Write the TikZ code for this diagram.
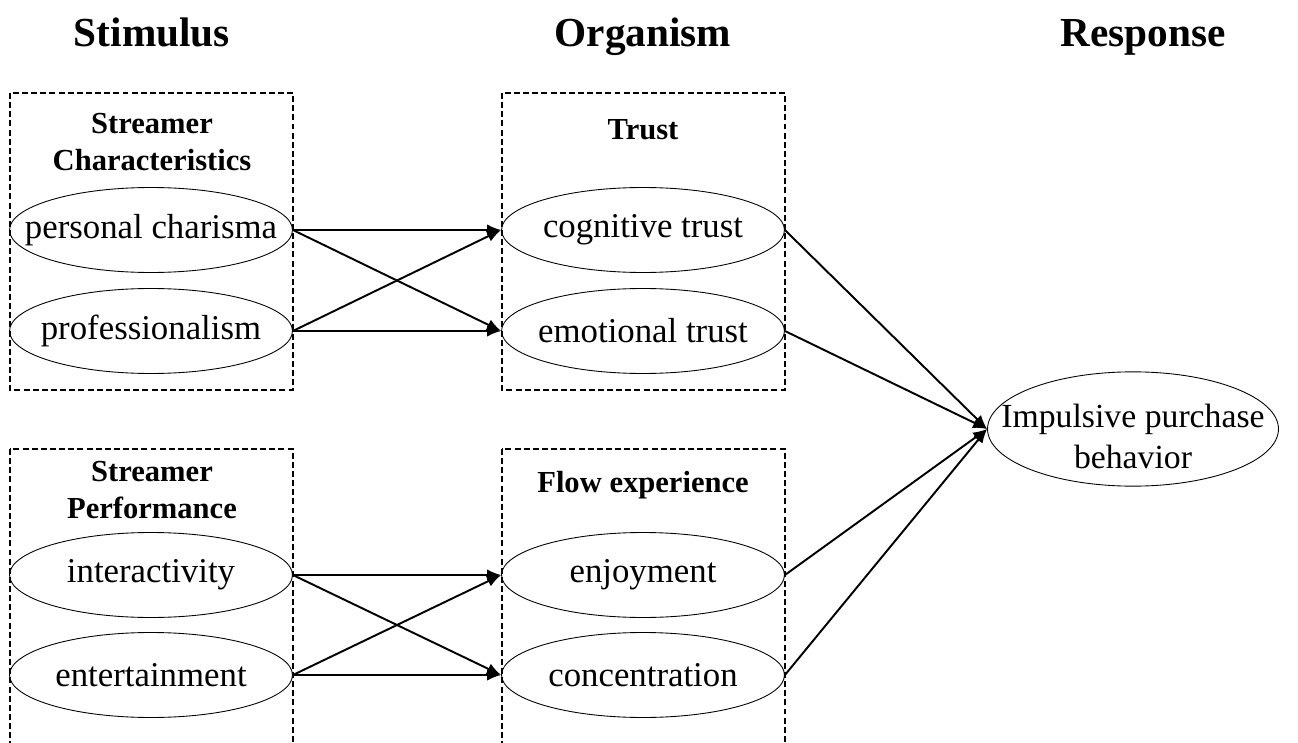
\documentclass[tikz,border=0pt]{standalone}
\usepackage{fontspec}
\setmainfont{Liberation Serif}
\usetikzlibrary{shapes.geometric,arrows.meta,positioning}

\begin{document}
\begin{tikzpicture}[x=0.02cm, y=-0.02cm,
    factor/.style={draw, ellipse, line width=0.5pt, minimum width=5.66cm, minimum height=1.7cm, inner sep=0pt,
        font=\fontsize{19.8}{23}\selectfont,
        execute at begin node={\hbox to 0pt\bgroup\hss}, execute at end node={\hss\egroup}},
    group/.style={draw, dash pattern=on 3.4pt off 1.8pt, line width=0.6pt},
    grouptitle/.style={align=center, font=\fontsize{17.4}{21}\selectfont\bfseries},
    stage/.style={anchor=base, font=\fontsize{23.5}{28}\selectfont\bfseries},
    link/.style={-{Latex[length=8pt,width=6.5pt]}, line width=1.1pt}]
    \useasboundingbox (0,0) rectangle (1298,743);

    % Stages
    \node[stage] (stimulus) at (152,47) {Stimulus};
    \node[stage] (organism) at (643,47) {Organism};
    \node[stage] (response) at (1143,47) {Response};

    % Groups
    \draw[group] (10,93) rectangle (293,390);
    \draw[group] (502,93) rectangle (785,390);
    \draw[group] (10,449) rectangle (293,760);
    \draw[group] (502,449) rectangle (785,760);
    \node[grouptitle] (charTitle) at (152,142) {Streamer\\Characteristics};
    \node[grouptitle, anchor=base] (trustTitle) at (643,140) {Trust};
    \node[grouptitle] (perfTitle) at (152,490) {Streamer\\Performance};
    \node[grouptitle, anchor=base] (flowTitle) at (643,492) {Flow experience};

    % Nodes
    \node[factor] (charisma) at (151,230) {personal charisma};
    \node[factor] (professional) at (151,331) {professionalism};
    \node[factor] (cognitive) at (643,230) {cognitive trust};
    \node[factor] (emotional) at (643,331) {emotional trust};
    \node[factor] (interact) at (151,575) {interactivity};
    \node[factor] (entertain) at (151,675) {entertainment};
    \node[factor] (enjoy) at (643,575) {enjoyment};
    \node[factor] (concentrate) at (643,675) {concentration};
    \node[factor, minimum width=5.82cm, minimum height=2.24cm, font=\fontsize{19.2}{23}\selectfont] (impulse) at (1133,429)
        {\raisebox{-0.22cm}[\height][\depth]{\begin{tabular}{@{}c@{}}Impulsive purchase\\behavior\end{tabular}}};

    % Arrows
    \draw[link] (charisma.east) -- (cognitive.west);
    \draw[link] (charisma.east) -- (emotional.west);
    \draw[link] (professional.east) -- (cognitive.west);
    \draw[link] (professional.east) -- (emotional.west);
    \draw[link] (interact.east) -- (enjoy.west);
    \draw[link] (interact.east) -- (concentrate.west);
    \draw[link] (entertain.east) -- (enjoy.west);
    \draw[link] (entertain.east) -- (concentrate.west);
    \draw[link] (cognitive.east) -- (impulse.west);
    \draw[link] (emotional.east) -- (impulse.west);
    \draw[link] (enjoy.east) -- (impulse.west);
    \draw[link] (concentrate.east) -- (impulse.west);
\end{tikzpicture}
\end{document}
